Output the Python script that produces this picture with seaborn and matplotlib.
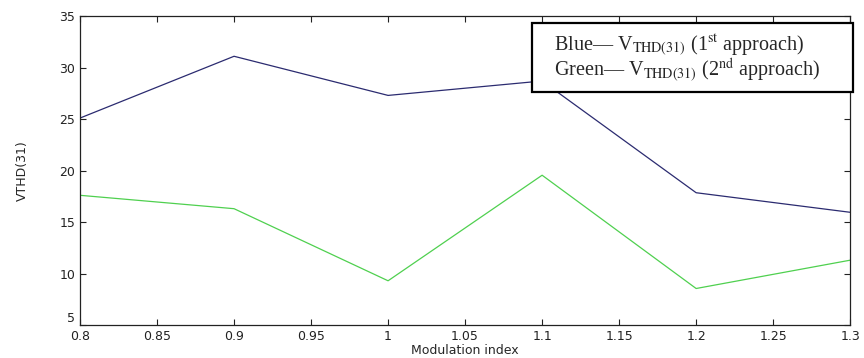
import matplotlib
matplotlib.use('Agg')

import pandas as pd
import matplotlib.pyplot as plt
import seaborn as sns
from matplotlib.patches import Rectangle
from matplotlib.transforms import ScaledTranslation

# Data
mod_index = [0.8, 0.9, 1.0, 1.1, 1.2, 1.3]
vthd_first = [25.1, 31.1, 27.3, 28.7, 17.85, 15.95]
vthd_second = [17.6, 16.3, 9.3, 19.55, 8.55, 11.3]
x_ticks = [0.8, 0.85, 0.9, 0.95, 1.0, 1.05, 1.1, 1.15, 1.2, 1.25, 1.3]
x_tick_labels = ['0.8', '0.85', '0.9', '0.95', '1', '1.05', '1.1', '1.15', '1.2', '1.25', '1.3']
y_ticks = [5, 10, 15, 20, 25, 30, 35]

df = pd.DataFrame({
    'm': mod_index * 2,
    'v': vthd_first + vthd_second,
    'series': ['first'] * len(mod_index) + ['second'] * len(mod_index),
})

sns.set_style('ticks')
plt.rcParams.update({
    'font.family': ['DejaVu Sans'],
    'xtick.direction': 'in',
    'ytick.direction': 'in',
    'xtick.top': True,
    'ytick.right': True,
    'mathtext.fontset': 'stix',
})

fig = plt.figure(figsize=(8.64, 3.58), dpi=100)
ax = fig.add_axes([0.0926, 0.092, 0.8914, 0.863])

sns.lineplot(data=df, x='m', y='v', hue='series',
             palette={'first': '#2b2b70', 'second': '#4fd04f'},
             linewidth=0.9, legend=False, ax=ax)

ax.set_xlim(0.8, 1.3)
ax.set_ylim(5, 35)
ax.set_xticks(x_ticks)
ax.set_xticklabels(x_tick_labels)
ax.set_yticks(y_ticks)
ax.tick_params(labelsize=9, length=4, width=0.8, colors='#222222')
for s in ax.spines.values():
    s.set_linewidth(0.9)
    s.set_color('#222222')
ax.set_xlabel('Modulation index', fontsize=9, labelpad=1)
ax.set_ylabel('VTHD(31)', fontsize=9, labelpad=22)

# lift the bottom y label like MATLAB does, so it clears "0.8"
lbl = ax.get_yticklabels()[0]
lbl.set_transform(lbl.get_transform() + ScaledTranslation(0, 6 / 72, fig.dpi_scale_trans))

# pasted-in legend box, wider than its text
fig.add_artist(Rectangle((0.6163, 0.744), 0.371, 0.1916, transform=fig.transFigure,
                         fc='white', ec='black', lw=1.6, zorder=5))
legend_txt = ('Blue\u2014 V$_{\\mathrm{THD(31)}}$ (1$^{\\mathrm{st}}$ approach)\n'
              'Green\u2014 V$_{\\mathrm{THD(31)}}$ (2$^{\\mathrm{nd}}$ approach)')
fig.text(0.641, 0.836, legend_txt, fontsize=14.5, family='Liberation Serif',
         va='center', ha='left', linespacing=0.9, zorder=6)

fig.savefig('out.png', dpi=100)
